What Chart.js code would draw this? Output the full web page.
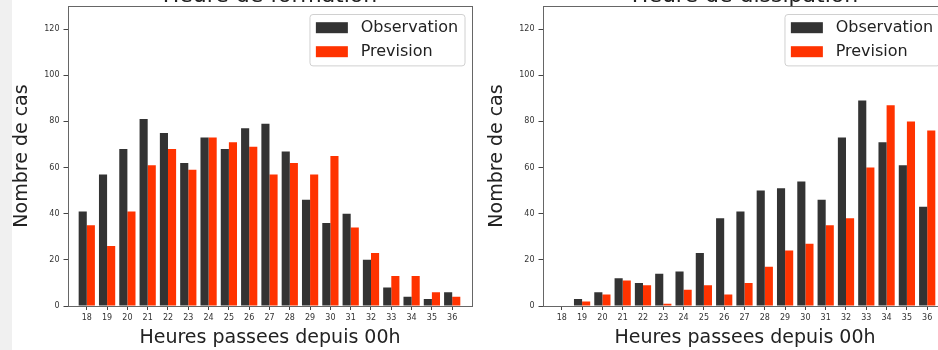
<!DOCTYPE html>
<html>
<head>
<meta charset="utf-8">
<script src="https://cdn.jsdelivr.net/npm/chart.js@4"></script>
<style>
  html, body { margin: 0; padding: 0; background: #fff; }
  body { width: 938px; height: 350px; overflow: hidden; position: relative; }
  #strip { position: absolute; left: 0; top: 0; width: 12px; height: 350px; background: #f0f0f0; }
  canvas { position: absolute; top: -34px; }
  #c1 { left: 0px; }
  #c2 { left: 475px; }
</style>
</head>
<body>
<div id="strip"></div>
<canvas id="c1" width="475" height="384"></canvas>
<canvas id="c2" width="475" height="384"></canvas>
<script>
const hours = [18, 19, 20, 21, 22, 23, 24, 25, 26, 27, 28, 29, 30, 31, 32, 33, 34, 35, 36];
const yTicks = [0, 20, 40, 60, 80, 100, 120];

// Heure de formation
const formationObs  = [41, 57, 68, 81, 75, 62, 73, 68, 77, 79, 67, 46, 36, 40, 20, 8, 4, 3, 6];
const formationPrev = [35, 26, 41, 61, 68, 59, 73, 71, 69, 57, 62, 57, 65, 34, 23, 13, 13, 6, 4];

// Heure de dissipation
const dissipObs  = [0, 3, 6, 12, 10, 14, 15, 23, 38, 41, 50, 51, 54, 46, 73, 89, 71, 61, 43];
const dissipPrev = [0, 2, 5, 11, 9, 1, 7, 9, 5, 10, 17, 24, 27, 35, 38, 60, 87, 80, 76];

const font = '"DejaVu Sans", sans-serif';

// cadre complet autour du graphe (style matplotlib)
const framePlugin = {
    id: 'frame',
    afterDatasetsDraw(chart) {
        const a = chart.chartArea, ctx = chart.ctx;
        ctx.save();
        ctx.strokeStyle = '#666';
        ctx.lineWidth = 1;
        ctx.strokeRect(Math.round(a.left) + 0.5, Math.round(a.top) + 0.5,
                       Math.round(a.right - a.left) - 1, Math.round(a.bottom - a.top));
        ctx.restore();
    }
};

// legende en haut a droite, dans le graphe
const legendPlugin = {
    id: 'boxLegend',
    afterDraw(chart) {
        const a = chart.chartArea, ctx = chart.ctx;
        const fs = 16, pad = 6.4, hw = 32, hh = 11, gap = 12.8;
        ctx.save();
        ctx.font = fs + 'px ' + font;
        const sets = chart.data.datasets;
        let tw = 0;
        sets.forEach(d => { tw = Math.max(tw, ctx.measureText(d.label).width); });
        const w = pad + hw + gap + tw + pad;
        const h = 51.4;
        const right = a.right - 8, top = a.top + 8, left = right - w;
        ctx.beginPath();
        ctx.roundRect(left + 0.5, top + 0.5, w, h, 3);
        ctx.fillStyle = 'rgba(255,255,255,0.8)';
        ctx.fill();
        ctx.strokeStyle = '#d0d0d0';
        ctx.lineWidth = 1;
        ctx.stroke();
        sets.forEach((d, i) => {
            const cy = top + 13.7 + i * 24;
            ctx.fillStyle = d.backgroundColor;
            ctx.fillRect(left + pad, cy - hh / 2, hw, hh);
            ctx.fillStyle = '#222';
            ctx.textBaseline = 'middle';
            ctx.textAlign = 'left';
            ctx.fillText(d.label, left + pad + hw + gap, cy);
        });
        ctx.restore();
    }
};

function makeChart(id, titre, obs, prev) {
    return new Chart(document.getElementById(id), {
        type: 'bar',
        data: {
            datasets: [
                {
                    label: 'Observation',
                    data: hours.map((h, i) => ({ x: h, y: obs[i] })),
                    backgroundColor: '#333333',
                    borderWidth: 0
                },
                {
                    label: 'Prevision',
                    data: hours.map((h, i) => ({ x: h, y: prev[i] })),
                    backgroundColor: '#ff3300',
                    borderWidth: 0
                }
            ]
        },
        options: {
            responsive: false,
            animation: false,
            events: [],
            categoryPercentage: 0.8,
            barPercentage: 1.0,
            layout: { padding: { left: 0, right: 2.5, top: 0, bottom: 0 } },
            plugins: {
                legend: { display: false },
                tooltip: { enabled: false }
            },
            scales: {
                x: {
                    type: 'linear',
                    offset: false,
                    min: 17.05,
                    max: 37.0,
                    afterBuildTicks: (s) => { s.ticks = hours.map(v => ({ value: v })); },
                    afterFit: (s) => { s.height = 44; },
                    border: { display: false },
                    grid: { display: true, drawOnChartArea: false, drawTicks: true, tickLength: 4, color: '#444', offset: false },
                    ticks: { color: '#333', font: { family: font, size: 8 }, padding: 3.5, maxRotation: 0, autoSkip: false },
                    title: {
                        display: true,
                        text: 'Heures passees depuis 00h',
                        color: '#222',
                        font: { family: font, size: 19, lineHeight: 1.2 },
                        padding: { top: 0, bottom: 1 }
                    }
                },
                // axe du haut sans graduations : sert seulement a centrer le titre sur le graphe
                xTop: {
                    type: 'linear',
                    position: 'top',
                    offset: false,
                    min: 17.05,
                    max: 37.0,
                    afterFit: (s) => { s.height = 40; },
                    border: { display: false },
                    grid: { display: false },
                    ticks: { display: false },
                    title: {
                        display: true,
                        text: titre,
                        color: '#222',
                        font: { family: font, size: 22, lineHeight: 1.2 },
                        padding: { top: 17.3, bottom: 0 }
                    }
                },
                y: {
                    min: 0,
                    max: 130,
                    afterBuildTicks: (s) => { s.ticks = yTicks.map(v => ({ value: v })); },
                    afterFit: (s) => { s.width = 67.5; },
                    border: { display: false },
                    grid: { display: true, drawOnChartArea: false, drawTicks: true, tickLength: 4, color: '#444' },
                    ticks: { color: '#333', font: { family: font, size: 8 }, padding: 4 },
                    title: {
                        display: true,
                        text: 'Nombre de cas',
                        color: '#222',
                        font: { family: font, size: 19, lineHeight: 1.2 },
                        padding: { top: 10.5, bottom: 0 }
                    }
                }
            }
        },
        plugins: [framePlugin, legendPlugin]
    });
}

makeChart('c1', 'Heure de formation', formationObs, formationPrev);
makeChart('c2', 'Heure de dissipation', dissipObs, dissipPrev);
</script>
</body>
</html>
